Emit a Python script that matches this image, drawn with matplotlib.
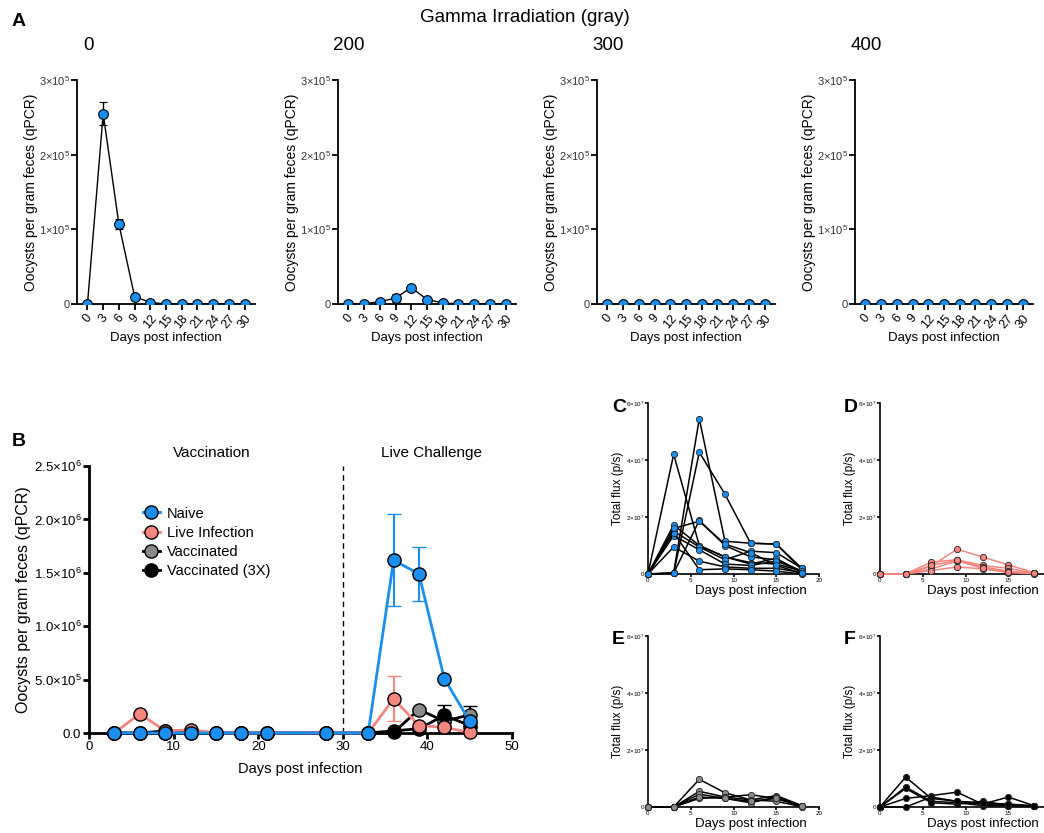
import numpy as np
import matplotlib
matplotlib.use("Agg")
import matplotlib.pyplot as plt
from matplotlib.lines import Line2D

plt.rcParams['font.family'] = ['Liberation Sans', 'DejaVu Sans']
plt.rcParams['mathtext.default'] = 'regular'

W, H = 1044, 833
BLUE = '#1a8ff0'
PINK = '#f4857f'
GRAY = '#8a8a8a'
HEAD = ['Liberation Sans', 'DejaVu Sans']

# ---------------- data ----------------
# panel A
a_days = [0, 3, 6, 9, 12, 15, 18, 21, 24, 27, 30]
a_doses = ['0', '200', '300', '400']
a_g0 = [0, 255000, 107000, 10000, 2000, 0, 0, 0, 0, 0, 0]
a_g0_err = [0, 15000, 7000, 0, 0, 0, 0, 0, 0, 0, 0]
a_g200 = [0, 500, 3000, 8000, 22000, 6000, 1500, 0, 0, 0, 0]
a_g200_err = [0, 0, 0, 5000, 0, 0, 0, 0, 0, 0, 0]
a_g300 = [0, 0, 0, 0, 0, 0, 0, 0, 0, 0, 0]
a_g400 = [0, 0, 0, 0, 0, 0, 0, 0, 0, 0, 0]
a_zero_err = [0] * 11

# panel B
b_days = [3, 6, 9, 12, 15, 18, 21, 28, 33, 36, 39, 42, 45]
b_naive = [0, 0, 0, 0, 0, 0, 0, 0, 0, 1.617e6, 1.49e6, 0.509e6, 0.109e6]
b_naive_err = [0, 0, 0, 0, 0, 0, 0, 0, 0, 0.43e6, 0.25e6, 0.02e6, 0.02e6]
b_live = [0, 0.18e6, 0.02e6, 0.03e6, 0, 0, 0, 0, 0, 0.32e6, 0.07e6, 0.053e6, 0.006e6]
b_live_err = [0, 0.01e6, 0, 0, 0, 0, 0, 0, 0, 0.21e6, 0.01e6, 0.01e6, 0]
b_vacc = [0, 0, 0.02e6, 0.02e6, 0, 0, 0, 0, 0, 0.005e6, 0.22e6, 0.11e6, 0.17e6]
b_vacc_err = [0, 0, 0, 0, 0, 0, 0, 0, 0, 0, 0.01e6, 0.02e6, 0.08e6]
b_vacc3 = [0, 0, 0, 0, 0, 0, 0, 0, 0, 0.02e6, 0.04e6, 0.165e6, 0.07e6]
b_vacc3_err = [0, 0, 0, 0, 0, 0, 0, 0, 0, 0, 0.01e6, 0.1e6, 0.02e6]

# panels C-F, total flux per mouse (x1e7)
f_days = [0, 3, 6, 9, 12, 15, 18]
c_mice = [
    [0, 4.2, 1.0, 0.6, 0.4, 0.35, 0.1],
    [0, 0.05, 5.45, 1.15, 1.08, 1.05, 0.2],
    [0, 0.02, 4.27, 2.8, 1.08, 1.05, 0.15],
    [0, 0.03, 1.88, 1.0, 0.6, 0.5, 0.1],
    [0, 1.72, 1.0, 0.6, 0.35, 0.55, 0.05],
    [0, 1.5, 0.95, 0.5, 0.8, 0.75, 0.2],
    [0, 1.35, 0.85, 0.35, 0.3, 0.45, 0.1],
    [0, 0.95, 0.45, 0.25, 0.2, 0.2, 0.05],
    [0, 1.45, 0.15, 0.18, 0.15, 0.1, 0.0],
    [0, 1.6, 1.85, 1.05, 0.75, 0.3, 0.02],
]
d_mice = [
    [0, 0, 0.28, 0.87, 0.6, 0.32, 0.05],
    [0, 0, 0.42, 0.5, 0.3, 0.2, 0.03],
    [0, 0, 0.18, 0.45, 0.25, 0.1, 0.02],
    [0, 0, 0.12, 0.25, 0.18, 0.05, 0.01],
    [0, 0, 0.3, 0.48, 0.2, 0.08, 0.02],
]
e_mice = [
    [0, 0, 0.97, 0.5, 0.25, 0.4, 0.05],
    [0, 0, 0.55, 0.35, 0.43, 0.3, 0.02],
    [0, 0, 0.45, 0.3, 0.15, 0.35, 0.03],
    [0, 0, 0.3, 0.35, 0.25, 0.2, 0.01],
    [0, 0, 0.35, 0.3, 0.2, 0.3, 0.02],
]
f_mice = [
    [0, 1.05, 0.3, 0.2, 0.1, 0.1, 0.05],
    [0, 0.7, 0.2, 0.15, 0.05, 0.05, 0.02],
    [0, 0.65, 0.15, 0.1, 0.2, 0.05, 0.03],
    [0, 0.3, 0.4, 0.52, 0.1, 0.35, 0.05],
    [0, 0, 0.35, 0.2, 0.15, 0.1, 0.02],
]


def px(l, t, r, b):
    return [l / W, 1 - b / H, (r - l) / W, (b - t) / H]


def clean(ax, lw):
    for s in ['top', 'right']:
        ax.spines[s].set_visible(False)
    for s in ['left', 'bottom']:
        ax.spines[s].set_linewidth(lw)
    ax.tick_params(width=lw)


fig = plt.figure(figsize=(W / 100, H / 100), dpi=100)

# ---------------- panel A ----------------
fig.text(12 / W, 1 - 22 / H, 'A', fontsize=14, fontweight='bold', family=HEAD, va='center')
fig.text(525 / W, 1 - 18 / H, 'Gamma Irradiation (gray)', fontsize=13.5, family=HEAD,
         ha='center', va='center')
a_series = [(a_g0, a_g0_err), (a_g200, a_g200_err), (a_g300, a_zero_err), (a_g400, a_zero_err)]
a_lefts = [77, 338, 597, 855]
for i, (vals, err) in enumerate(a_series):
    l = a_lefts[i]
    ax = fig.add_axes(px(l, 80, l + 178, 304))
    ax.errorbar(a_days, vals, yerr=err, color='black', lw=1, capsize=3, elinewidth=1,
                marker='o', ms=7, mfc=BLUE, mec='black', mew=0.8, zorder=3)
    ax.set_xlim(-2, 32)
    ax.set_ylim(0, 3e5)
    ax.set_yticks([0, 1e5, 2e5, 3e5], ['0', '1×10$^{5}$', '2×10$^{5}$', '3×10$^{5}$'])
    ax.set_xticks(a_days, [str(d) for d in a_days], rotation=50)
    ax.tick_params(labelsize=9, length=4, pad=2)
    ax.tick_params(axis='y', labelsize=8, pad=1)
    for t in ax.get_yticklabels():
        t.set_color('#333333')
    ax.set_xlabel('Days post infection', fontsize=9.5, labelpad=1)
    ax.set_ylabel('Oocysts per gram feces (qPCR)', fontsize=10, labelpad=1)
    clean(ax, 1.3)
    fig.text((l + 11) / W, 1 - 45 / H, a_doses[i], fontsize=13.5, family=HEAD,
             ha='center', va='center')

# ---------------- panel B ----------------
fig.text(12 / W, 1 - 442 / H, 'B', fontsize=14, fontweight='bold', family=HEAD, va='center')
axb = fig.add_axes(px(89, 466, 512, 733))
b_series = [
    ('Vaccinated', b_vacc, b_vacc_err, GRAY, 'black'),
    ('Vaccinated (3X)', b_vacc3, b_vacc3_err, 'black', 'black'),
    ('Live Infection', b_live, b_live_err, PINK, PINK),
    ('Naive', b_naive, b_naive_err, BLUE, BLUE),
]
handles = {}
for k, (name, vals, err, fc, lc) in enumerate(b_series):
    axb.errorbar(b_days, vals, yerr=err, color=lc, lw=2, capsize=5, elinewidth=1.5,
                 capthick=1.5, marker='o', ms=9.5, mfc=fc, mec='black', mew=1,
                 zorder=3 + k, clip_on=False)
    handles[name] = Line2D([], [], color=lc, lw=2, marker='o', ms=9.5, mfc=fc,
                           mec='black', mew=1)
axb.axvline(30, color='black', lw=1, ls=(0, (4, 3)), zorder=1)
axb.set_xlim(0, 50)
axb.set_ylim(0, 2.5e6)
axb.set_xticks([0, 10, 20, 30, 40, 50])
axb.set_yticks([0, 0.5e6, 1e6, 1.5e6, 2e6, 2.5e6],
               ['0.0', '5.0×10$^{5}$', '1.0×10$^{6}$', '1.5×10$^{6}$', '2.0×10$^{6}$', '2.5×10$^{6}$'])
axb.tick_params(labelsize=9.5, length=4, pad=1.5)
axb.set_xlabel('Days post infection', fontsize=10.5, labelpad=7)
axb.set_ylabel('Oocysts per gram feces (qPCR)', fontsize=11.5, labelpad=2)
clean(axb, 2)
axb.text(14.5, 2.56e6, 'Vaccination', fontsize=11, ha='center', va='bottom')
axb.text(40.5, 2.56e6, 'Live Challenge', fontsize=11, ha='center', va='bottom')
order = ['Naive', 'Live Infection', 'Vaccinated', 'Vaccinated (3X)']
lg = axb.legend([handles[n] for n in order], order, loc='upper left',
                bbox_to_anchor=(0.115, 0.87), frameon=False, fontsize=10.5,
                handlelength=1.1, handletextpad=0.5, labelspacing=0.35, borderaxespad=0)

# ---------------- panels C-F ----------------
flux_panels = [
    ('C', c_mice, BLUE, 'black', 648, 403),
    ('D', d_mice, PINK, PINK, 880, 403),
    ('E', e_mice, GRAY, 'black', 648, 636),
    ('F', f_mice, 'black', 'black', 880, 636),
]
for letter, mice, fc, lc, l, t in flux_panels:
    ax = fig.add_axes(px(l, t, l + 171, t + 171))
    for m in mice:
        ax.plot(f_days, np.array(m) * 1e7, color=lc, lw=1.1, marker='o', ms=4.5,
                mfc=fc, mec='#222222', mew=0.6, clip_on=False, zorder=3)
    ax.set_xlim(0, 20)
    ax.set_ylim(0, 6e7)
    if l > 800:
        ax.set_xticks([0, 5, 10, 15])
    else:
        ax.set_xticks([0, 5, 10, 15, 20])
    ax.set_yticks([0, 2e7, 4e7, 6e7], ['0', '2×10$^{7}$', '4×10$^{7}$', '6×10$^{7}$'])
    ax.tick_params(labelsize=4.5, length=2, pad=1)
    ax.set_xlabel('Days post infection', fontsize=9.5, labelpad=1)
    ax.xaxis.label.set_x(0.6)
    ax.set_ylabel('Total flux (p/s)', fontsize=8.5, labelpad=1)
    clean(ax, 1.2)
    fig.text((l - 36) / W, 1 - (t + 4) / H, letter, fontsize=14, fontweight='bold',
             family=HEAD, va='center')

fig.savefig('out.png', dpi=100)
